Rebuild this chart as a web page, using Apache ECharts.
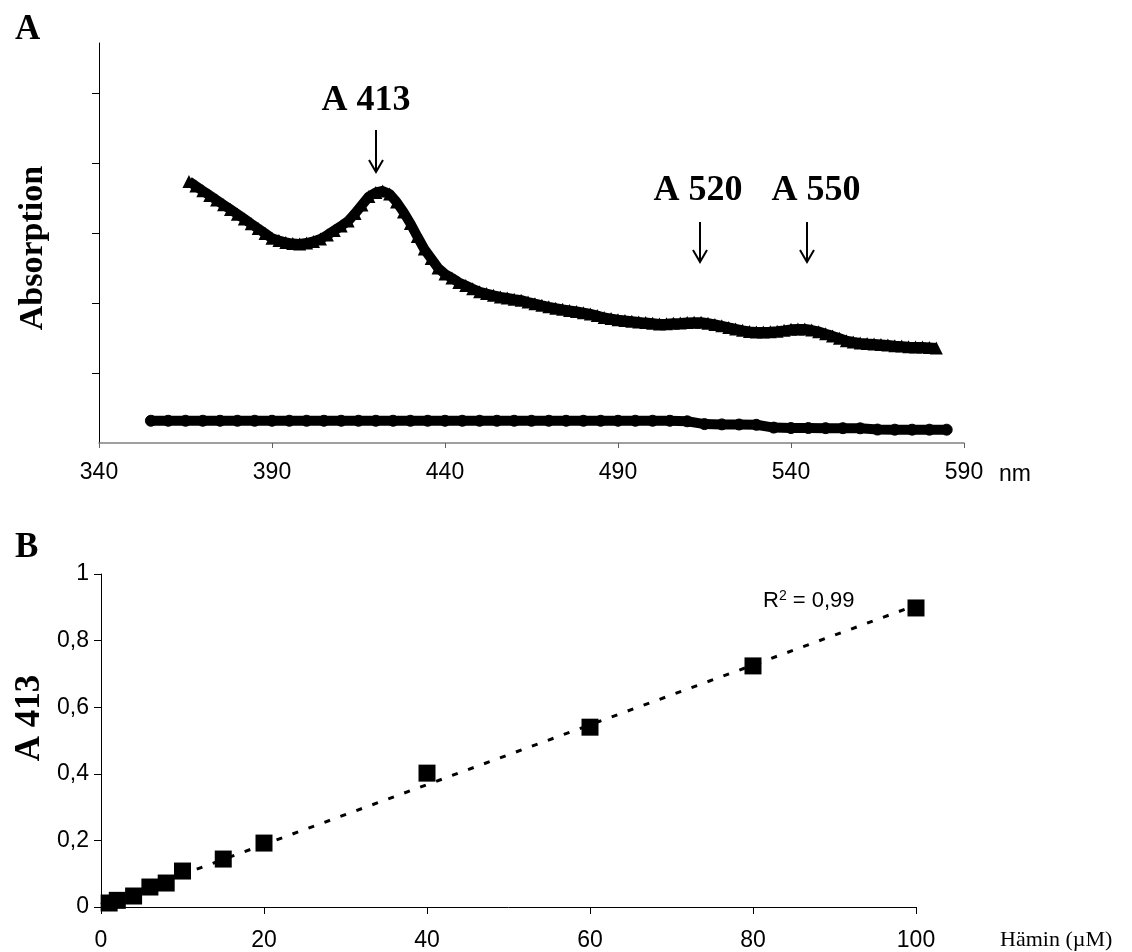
<!DOCTYPE html>
<html><head><meta charset="utf-8">
<script src="https://cdn.jsdelivr.net/npm/echarts@6/dist/echarts.min.js"></script>
<style>html,body{margin:0;padding:0;background:#fff}#c{width:1132px;height:952px}</style>
</head><body><div id="c"></div><script>
// Panel A: absorption spectrum (arbitrary units)
const wavelengthsSample = [366,368,370,372,374,376,378,380,382,384,386,388,390,392,394,396,398,400,402,404,406,408,410,412,414,416,418,420,422,424,426,428,430,432,434,436,438,440,442,444,446,448,450,452,454,456,458,460,462,464,466,468,470,472,474,476,478,480,482,484,486,488,490,492,494,496,498,500,502,504,506,508,510,512,514,516,518,520,522,524,526,528,530,532,534,536,538,540,542,544,546,548,550,552,554,556,558,560,562,564,566,568,570,572,574,576,578,580,582];
const absorptionSample = [3.737,3.670,3.603,3.536,3.470,3.403,3.336,3.269,3.201,3.131,3.063,2.994,2.924,2.893,2.864,2.849,2.843,2.857,2.879,2.914,2.971,3.036,3.100,3.171,3.279,3.400,3.521,3.579,3.600,3.557,3.443,3.300,3.136,2.950,2.771,2.636,2.500,2.414,2.357,2.293,2.249,2.203,2.160,2.134,2.109,2.086,2.071,2.054,2.040,2.014,1.990,1.967,1.946,1.926,1.909,1.893,1.879,1.861,1.843,1.820,1.793,1.777,1.760,1.750,1.740,1.730,1.720,1.711,1.700,1.704,1.710,1.714,1.720,1.724,1.726,1.710,1.694,1.674,1.651,1.629,1.609,1.593,1.586,1.586,1.589,1.597,1.609,1.624,1.629,1.629,1.614,1.591,1.560,1.530,1.496,1.460,1.443,1.429,1.420,1.413,1.406,1.399,1.391,1.384,1.376,1.371,1.371,1.366,1.357];
const wavelengthsBlank = [355,360,365,370,375,380,385,390,395,400,405,410,415,420,425,430,435,440,445,450,455,460,465,470,475,480,485,490,495,500,505,510,515,520,525,530,535,540,545,550,555,560,565,570,575,580,585];
const absorptionBlank = [0.318,0.318,0.318,0.318,0.318,0.318,0.318,0.318,0.318,0.318,0.318,0.318,0.318,0.318,0.318,0.318,0.318,0.318,0.318,0.318,0.318,0.318,0.318,0.318,0.318,0.318,0.318,0.318,0.318,0.318,0.318,0.310,0.270,0.266,0.264,0.260,0.220,0.214,0.214,0.212,0.212,0.210,0.192,0.190,0.190,0.190,0.190];
const peakLabels = ['A 413','A 520','A 550'];
// Panel B: calibration
const heminConc = [1,2,4,6,8,10,15,20,40,60,80,100];
const a413 = [0.012,0.020,0.033,0.060,0.072,0.108,0.144,0.192,0.402,0.540,0.724,0.898];
const r2Text = '0,99';

// least squares linear trendline from the data
const n = heminConc.length;
const mx = heminConc.reduce((a,b)=>a+b,0)/n;
const my = a413.reduce((a,b)=>a+b,0)/n;
let sxy=0, sxx=0;
for (let i=0;i<n;i++){ sxy += (heminConc[i]-mx)*(a413[i]-my); sxx += (heminConc[i]-mx)**2; }
const slope = sxy/sxx, icpt = my - slope*mx;
const trend = [[0, icpt],[100, icpt+slope*100]];

const SANS = '"Liberation Sans", Arial, sans-serif';
const SERIF = '"Liberation Serif", "Times New Roman", serif';

const chart = echarts.init(document.getElementById('c'), null, {renderer:'canvas'});

function arrow(x, y1, y2){
  return [
    {type:'line', shape:{x1:x,y1:y1,x2:x,y2:y2}, style:{stroke:'#000', lineWidth:2}},
    {type:'polyline', shape:{points:[[x-7,y2-12],[x,y2],[x+7,y2-12]]}, style:{stroke:'#000', lineWidth:2, fill:null}}
  ];
}

chart.setOption({
  animation:false,
  backgroundColor:'#fff',
  grid:[
    {left:99, top:43, width:865, height:400, containLabel:false, outerBoundsMode:'none'},
    {left:101, top:574, width:815, height:333, containLabel:false, outerBoundsMode:'none'}
  ],
  xAxis:[
    {gridIndex:0, type:'value', min:340, max:590, interval:50,
     axisLine:{lineStyle:{color:'#808080', width:1.5}},
     axisTick:{show:true, length:5, lineStyle:{color:'#606060'}},
     splitLine:{show:false},
     axisLabel:{color:'#000', fontSize:23, fontFamily:SANS, margin:18},
     name:'nm', nameLocation:'end', nameGap:35,
     nameTextStyle:{color:'#000', fontSize:23, fontFamily:SANS, verticalAlign:'top', padding:[20,0,0,0]}},
    {gridIndex:1, type:'value', min:0, max:100, interval:20,
     axisLine:{lineStyle:{color:'#000', width:1}},
     axisTick:{show:true, length:7, lineStyle:{color:'#000'}},
     splitLine:{show:false},
     axisLabel:{color:'#000', fontSize:23, fontFamily:SANS, margin:22},
     name:'Hämin (µM)', nameLocation:'end', nameGap:84,
     nameTextStyle:{color:'#000', fontSize:22, fontFamily:SERIF, verticalAlign:'top', padding:[22,0,0,0]}}
  ],
  yAxis:[
    {gridIndex:0, type:'value', min:0, max:400/70, interval:1,
     axisLine:{show:true, lineStyle:{color:'#000', width:1}},
     axisTick:{show:true, length:7, customValues:[1,2,3,4,5], lineStyle:{color:'#000'}},
     axisLabel:{show:false}, splitLine:{show:false}},
    {gridIndex:1, type:'value', min:0, max:1, interval:0.2,
     axisLine:{show:true, lineStyle:{color:'#000', width:1}},
     axisTick:{show:true, length:7, lineStyle:{color:'#000'}},
     splitLine:{show:false},
     axisLabel:{color:'#000', fontSize:23, fontFamily:SANS, margin:12,
       formatter:v => String(Math.round(v*10)/10).replace('.', ',')}}
  ],
  series:[
    {type:'line', xAxisIndex:0, yAxisIndex:0, data:wavelengthsBlank.map((w,i)=>[w,absorptionBlank[i]]),
     lineStyle:{color:'#000', width:10}, symbol:'circle', symbolSize:11, showAllSymbol:true,
     itemStyle:{color:'#000', borderColor:'#000', opacity:1}, z:3},
    {type:'line', xAxisIndex:0, yAxisIndex:0, data:wavelengthsSample.map((w,i)=>[w,absorptionSample[i]]),
     lineStyle:{color:'#000', width:10}, symbol:'triangle', symbolSize:13, showAllSymbol:true,
     itemStyle:{color:'#000', opacity:1}, z:3},
    {type:'line', xAxisIndex:1, yAxisIndex:1, data:trend, symbol:'none',
     lineStyle:{color:'#000', width:3, type:[6,11]}, z:2},
    {type:'scatter', xAxisIndex:1, yAxisIndex:1, data:heminConc.map((c,i)=>[c,a413[i]]),
     symbol:'rect', symbolSize:17, itemStyle:{color:'#000', opacity:1}, z:4}
  ],
  graphic:[
    {type:'text', left:15, top:12, style:{text:'A', font:'bold 35px '+SERIF, fill:'#000'}},
    {type:'text', left:15, top:530, style:{text:'B', font:'bold 35px '+SERIF, fill:'#000'}},
    {type:'text', x:33, y:248, rotation:Math.PI/2,
     style:{text:'Absorption', font:'bold 34px '+SERIF, fill:'#000', align:'center', verticalAlign:'middle'}},
    {type:'text', x:30, y:718, rotation:Math.PI/2,
     style:{text:'A 413', font:'bold 35px '+SERIF, fill:'#000', align:'center', verticalAlign:'middle'}},
    {type:'text', x:366, y:101, style:{text:peakLabels[0], font:'bold 36px '+SERIF, fill:'#000', align:'center', verticalAlign:'middle'}},
    {type:'text', x:698, y:191, style:{text:peakLabels[1], font:'bold 36px '+SERIF, fill:'#000', align:'center', verticalAlign:'middle'}},
    {type:'text', x:816, y:191, style:{text:peakLabels[2], font:'bold 36px '+SERIF, fill:'#000', align:'center', verticalAlign:'middle'}},
    ...arrow(376,130,172),
    ...arrow(700,222,262),
    ...arrow(807,222,262),
    {type:'text', x:763, y:601,
     style:{text:'{r|R}{s|2}{r| = '+r2Text+'}', fill:'#000', verticalAlign:'middle',
       rich:{r:{fontSize:22, fontFamily:SANS, fill:'#000', lineHeight:24}, s:{fontSize:14, fontFamily:SANS, verticalAlign:'top', fill:'#000', lineHeight:24}}}}
  ]
});
</script></body></html>
